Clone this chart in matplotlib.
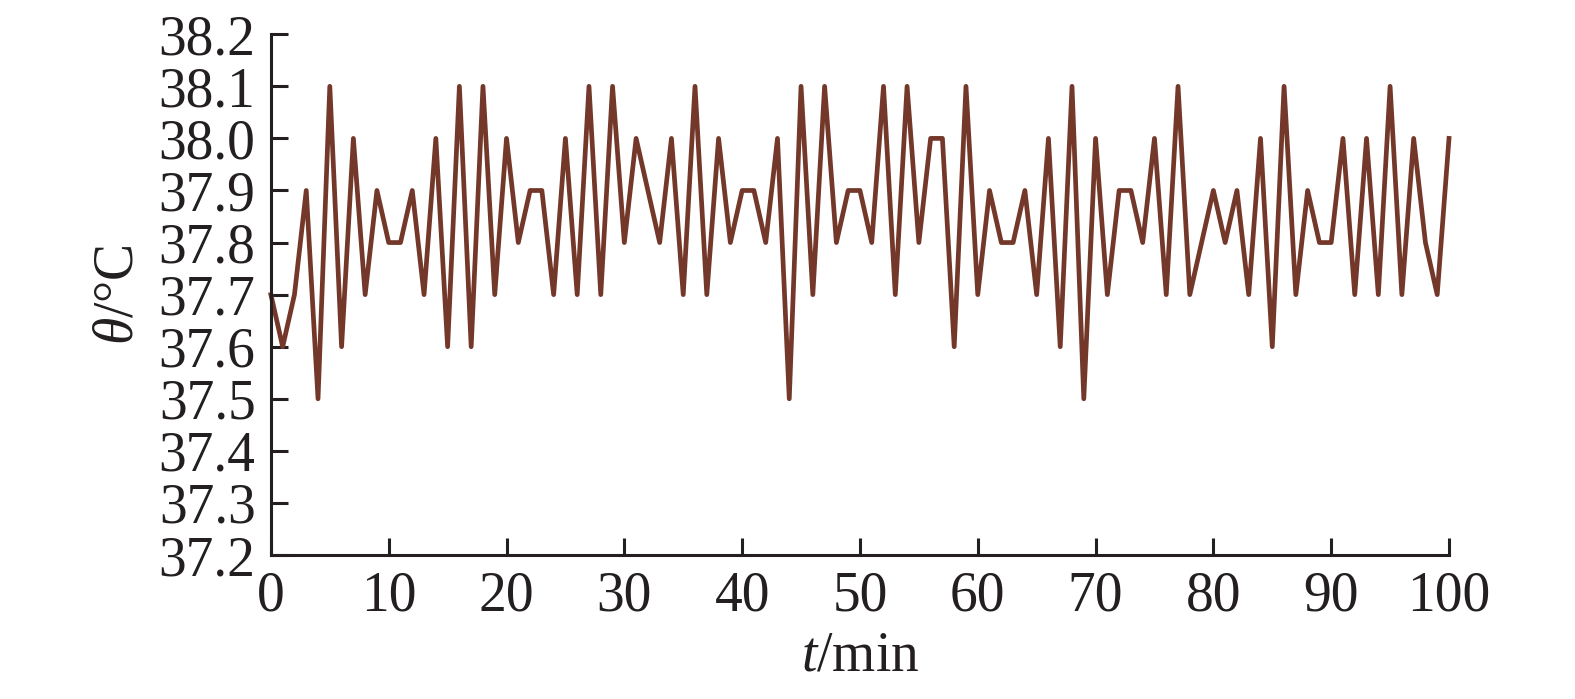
import matplotlib
matplotlib.use("Agg")
import matplotlib.pyplot as plt

# Data: temperature every minute
t_min = list(range(0, 101))
theta = [
    37.7, 37.6, 37.7, 37.9, 37.5, 38.1, 37.6, 38.0, 37.7, 37.9,
    37.8, 37.8, 37.9, 37.7, 38.0, 37.6, 38.1, 37.6, 38.1, 37.7,
    38.0, 37.8, 37.9, 37.9, 37.7, 38.0, 37.7, 38.1, 37.7, 38.1,
    37.8, 38.0, 37.9, 37.8, 38.0, 37.7, 38.1, 37.7, 38.0, 37.8,
    37.9, 37.9, 37.8, 38.0, 37.5, 38.1, 37.7, 38.1, 37.8, 37.9,
    37.9, 37.8, 38.1, 37.7, 38.1, 37.8, 38.0, 38.0, 37.6, 38.1,
    37.7, 37.9, 37.8, 37.8, 37.9, 37.7, 38.0, 37.6, 38.1, 37.5,
    38.0, 37.7, 37.9, 37.9, 37.8, 38.0, 37.7, 38.1, 37.7, 37.8,
    37.9, 37.8, 37.9, 37.7, 38.0, 37.6, 38.1, 37.7, 37.9, 37.8,
    37.8, 38.0, 37.7, 38.0, 37.7, 38.1, 37.7, 38.0, 37.8, 37.7,
    38.0,
]
x_ticks = list(range(0, 101, 10))
y_ticks = [37.2, 37.3, 37.4, 37.5, 37.6, 37.7, 37.8, 37.9, 38.0, 38.1, 38.2]

plt.rcParams["font.family"] = ["Liberation Serif", "DejaVu Serif"]
plt.rcParams["mathtext.fontset"] = "custom"
plt.rcParams["mathtext.rm"] = "Liberation Serif"
plt.rcParams["mathtext.it"] = "Liberation Serif:italic"

fig = plt.figure(figsize=(15.75, 6.99), dpi=100)
ax = fig.add_axes([0.172, 0.206, 0.748, 0.745])

ax.plot(t_min, theta, color="#74382a", linewidth=3.4, clip_on=False)

ax.set_xlim(0, 100)
ax.set_ylim(37.2, 38.2)
ax.set_xticks(x_ticks)
ax.set_yticks(y_ticks)
ax.set_yticklabels([f"{v:.1f}" for v in y_ticks])

for side in ["top", "right"]:
    ax.spines[side].set_visible(False)
for side in ["left", "bottom"]:
    ax.spines[side].set_linewidth(2.2)
    ax.spines[side].set_color("#231f20")

ax.tick_params(direction="in", length=12, width=2.2, color="#231f20",
               labelsize=40, labelcolor="#231f20", pad=11)

ax.set_xlabel(r"$t$/min", fontsize=40, color="#231f20", labelpad=6)
ax.set_ylabel(r"$\theta$/°C", fontsize=40, color="#231f20", labelpad=10)

fig.savefig("out.png", dpi=100)
